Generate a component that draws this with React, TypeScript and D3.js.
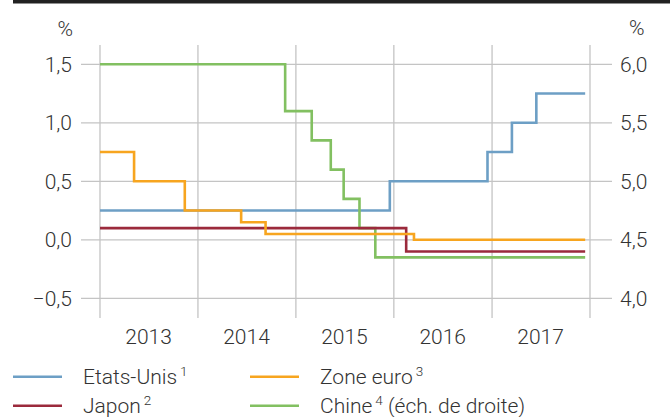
import * as d3 from "d3";

// Policy rates, step series (date of change, level in %)
const usDates = ["2013-01-01", "2015-12-17", "2016-12-15", "2017-03-16", "2017-06-15", "2017-12-14"];
const usValues = [0.25, 0.5, 0.75, 1.0, 1.25, 1.25];

const japanDates = ["2013-01-01", "2016-02-16", "2017-12-14"];
const japanValues = [0.1, -0.1, -0.1];

const euroDates = ["2013-01-01", "2013-05-08", "2013-11-13", "2014-06-11", "2014-09-10", "2016-03-16", "2017-12-14"];
const euroValues = [0.75, 0.5, 0.25, 0.15, 0.05, 0.0, 0.0];

// right-hand scale
const chinaDates = ["2013-01-01", "2014-11-22", "2015-03-01", "2015-05-11", "2015-06-28", "2015-08-26", "2015-10-24", "2017-12-14"];
const chinaValues = [6.0, 5.6, 5.35, 5.1, 4.85, 4.6, 4.35, 4.35];

const years = [2013, 2014, 2015, 2016, 2017];
const leftTicks = [-0.5, 0, 0.5, 1.0, 1.5];
const rightTicks = [4.0, 4.5, 5.0, 5.5, 6.0];

const COLORS = {
  us: "#6d9fc5",
  japan: "#9b2a3c",
  euro: "#f7a51f",
  china: "#82c061",
};

const W = 670;
const H = 417;
const FONT = "Roboto, 'Liberation Sans', sans-serif";
const TEXT = "#333";
const GRID = "#c4c4c4";
const FS = 21;

const fmt = (v: number) => d3.format(".1f")(v).replace(".", ",").replace("-", "\u2013");
const parse = d3.timeParse("%Y-%m-%d");

export default function App() {
  const x = d3.scaleTime()
    .domain([new Date(2013, 0, 1), new Date(2018, 0, 1)])
    .range([100, 590]);
  const yL = d3.scaleLinear().domain([-0.5, 1.5]).range([298.3, 64.3]);
  const yR = d3.scaleLinear().domain([4.0, 6.0]).range([298.3, 64.3]);
  const plotTop = 45;
  const plotBottom = 318;

  const step = (dates: string[], vals: number[], y: d3.ScaleLinear<number, number>) =>
    d3.line<number>()
      .x((_, i) => x(parse(dates[i]) as Date))
      .y(v => y(v))
      .curve(d3.curveStepAfter)(vals) ?? "";

  const series = [
    { key: "us", d: step(usDates, usValues, yL) },
    { key: "china", d: step(chinaDates, chinaValues, yR) },
    { key: "japan", d: step(japanDates, japanValues, yL) },
    { key: "euro", d: step(euroDates, euroValues, yL) },
  ];

  const yearLines = d3.range(2013, 2019).map(yr => x(new Date(yr, 0, 1)));

  const legend = [
    { label: "Etats-Unis", sup: "1", rest: "", color: COLORS.us, col: 0, row: 0 },
    { label: "Japon", sup: "2", rest: "", color: COLORS.japan, col: 0, row: 1 },
    { label: "Zone euro", sup: "3", rest: "", color: COLORS.euro, col: 1, row: 0 },
    { label: "Chine", sup: "4", rest: " (éch. de droite)", color: COLORS.china, col: 1, row: 1 },
  ];

  return (
    <svg width={W} height={H} style={{ position: "absolute", left: 0, top: 0, background: "#fff" }}
      fontFamily={FONT} fontWeight={300}>
      <rect x={13} y={0} width={W - 13} height={3.5} fill="#222" />

      {/* grid */}
      {leftTicks.map(t => (
        <line key={"h" + t} x1={81} x2={612} y1={yL(t)} y2={yL(t)} stroke={GRID} strokeWidth={1.3} />
      ))}
      {yearLines.map((px, i) => (
        <line key={"v" + i} x1={px} x2={px} y1={plotTop} y2={plotBottom} stroke={GRID} strokeWidth={1.3} />
      ))}

      {/* axis labels */}
      <text x={73} y={36} textAnchor="end" fontSize={FS} fill={TEXT}>%</text>
      <text x={629} y={35} textAnchor="start" fontSize={FS} fill={TEXT}>%</text>
      {leftTicks.map(t => (
        <text key={"l" + t} x={72} y={yL(t) + 7.5} textAnchor="end" fontSize={FS} fill={TEXT}>{fmt(t)}</text>
      ))}
      {rightTicks.map(t => (
        <text key={"r" + t} x={620} y={yR(t) + 7.5} textAnchor="start" fontSize={FS} fill={TEXT}>{fmt(t)}</text>
      ))}
      {years.map(yr => (
        <text key={yr} x={x(new Date(yr, 6, 1))} y={343.5} textAnchor="middle" fontSize={FS} fill={TEXT}>{yr}</text>
      ))}

      {/* series */}
      {series.map(s => (
        <path key={s.key} d={s.d} fill="none" stroke={COLORS[s.key as keyof typeof COLORS]} strokeWidth={2.6} />
      ))}

      {/* legend */}
      {legend.map(l => {
        const lx = l.col === 0 ? 13 : 250;
        const ly = l.row === 0 ? 376.7 : 405.7;
        return (
          <g key={l.label}>
            <line x1={lx} x2={lx + 49} y1={ly} y2={ly} stroke={l.color} strokeWidth={2.6} />
            <text x={lx + 70} y={ly + 7.5} fontSize={FS} fill={TEXT}>
              {l.label}
              <tspan fontSize={13.5} dx={3} dy={-8}>{l.sup}</tspan>
              {l.rest && <tspan dy={8}>{l.rest}</tspan>}
            </text>
          </g>
        );
      })}
    </svg>
  );
}
